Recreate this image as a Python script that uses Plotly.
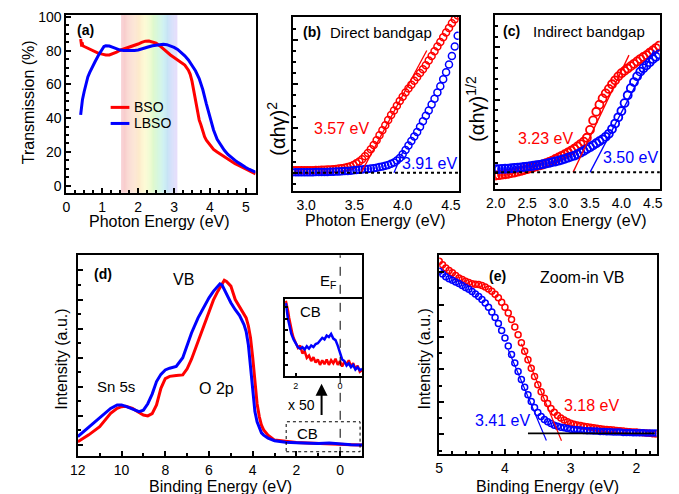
import numpy as np
import plotly.graph_objects as go

W, H = 679, 494
FONT = "Arial, Liberation Sans, sans-serif"
RED = "rgb(255,0,0)"
BLUE = "rgb(0,0,255)"

# screen-pixel -> paper fraction (measured placement of the plot area in the page)
X0, XS = 10.0, 676.6
Y0, YS = 14.0, 485.0


def px(x):
    return (x - X0) / XS


def py(y):
    return 1 - (y - Y0) / YS


# ---------------- (a) transmission ----------------
a_bso_x = [0.40, 0.41, 0.42, 0.43, 0.44, 0.46, 0.50, 0.60, 0.70, 0.80, 0.90, 1.00, 1.10, 1.20,
           1.30, 1.40, 1.50, 1.60, 1.70, 1.80, 1.90, 2.00, 2.10, 2.20, 2.30, 2.40, 2.50, 2.60,
           2.70, 2.80, 2.90, 3.00, 3.10, 3.20, 3.30, 3.40, 3.45, 3.50, 3.55, 3.60, 3.65, 3.70,
           3.75, 3.80, 3.85, 3.90, 3.95, 4.00, 4.10, 4.20, 4.30, 4.40, 4.50, 4.60, 4.70, 4.80,
           4.90, 5.00, 5.10, 5.20, 5.27]
a_bso_y = [87, 83, 86.5, 82.5, 85, 83, 82.5, 81.5, 80.5, 79.5, 78.5, 78, 77.5, 77.5,
           78.2, 79.2, 80.3, 81, 81.5, 82.2, 83, 84, 85, 85.7, 85.8, 85.3, 84.5, 83,
           81, 79, 77.5, 76, 74.5, 73, 71.5, 68.5, 66, 62, 56, 50, 44, 39,
           36, 32, 29, 27, 25.5, 24, 21.5, 20, 18.5, 17, 15.8, 14.4, 13, 12,
           11, 9.8, 8.8, 7.6, 7]
a_lbso_x = [0.40, 0.42, 0.45, 0.50, 0.55, 0.60, 0.65, 0.70, 0.80, 0.90, 1.00, 1.05, 1.10, 1.20,
            1.30, 1.40, 1.50, 1.60, 1.70, 1.80, 1.90, 2.00, 2.10, 2.20, 2.30, 2.40, 2.50, 2.60,
            2.70, 2.80, 2.90, 3.00, 3.10, 3.20, 3.30, 3.40, 3.50, 3.60, 3.70, 3.80, 3.90, 4.00,
            4.10, 4.20, 4.30, 4.40, 4.50, 4.60, 4.70, 4.80, 4.90, 5.00, 5.10, 5.20, 5.27]
a_lbso_y = [42, 46, 51, 56, 61, 64.5, 67, 69.5, 73.5, 77.5, 81, 82.5, 83, 82.8,
            82, 81, 80.4, 80.1, 80, 80, 80.2, 80.5, 81, 81.7, 82.4, 83, 83.4, 83.7,
            83.8, 83.6, 83, 82, 80.8, 79, 77, 74.5, 71.5, 68, 63.5, 57, 48.5, 40,
            33, 27.5, 24, 21, 18.5, 16.5, 15, 13.5, 12, 10.8, 9.6, 8.6, 8]
visible_band = [1.53, 3.09]  # eV

# ---------------- (b) direct bandgap ----------------
b_x = np.round(2.86 + 0.03 * np.arange(58), 3)
b_bso = [1.5, 1.5, 1.5, 1.5, 1.5, 1.6, 1.6, 1.6, 1.7, 1.7,
         1.8, 1.9, 2.0, 2.1, 2.2, 2.4, 2.6, 2.9, 3.2, 3.6,
         4.2, 5.0, 6.0, 7.2, 8.6, 10.5, 12.6, 15.0, 17.8, 20.8,
         24.0, 27.2, 30.5, 33.8, 37.0, 40.0, 43.0, 46.0, 48.8, 51.5,
         54.0, 56.5, 59.0, 61.5, 64.0, 66.5, 69.0, 72.0, 75.0, 78.0,
         81.0, 84.0, 87.0, 90.0, 93.0, 96.0, 98.5, 101.0]
b_lbso = [0.2, 0.2, 0.2, 0.2, 0.3, 0.3, 0.3, 0.3, 0.4, 0.4,
          0.4, 0.5, 0.5, 0.6, 0.6, 0.7, 0.8, 0.9, 1.0, 1.1,
          1.3, 1.5, 1.7, 1.9, 2.1, 2.3, 2.4, 2.6, 2.9, 3.2,
          3.6, 4.0, 4.5, 5.0, 5.7, 6.6, 7.8, 9.5, 11.8, 14.5,
          17.5, 20.3, 23.2, 26.2, 29.5, 33.0, 36.5, 40.0, 43.8, 47.5,
          51.5, 55.5, 60.0, 64.5, 69.5, 75.0, 81.0, 88.0]
b_fit_bso_x = [3.57, 4.25]
b_fit_bso_y = [0.0, 78.5]
b_fit_lbso_x = [3.91, 4.01]
b_fit_lbso_y = [0.0, 14.5]

# ---------------- (c) indirect bandgap ----------------
c_x = np.round(2.00 + 0.05 * np.arange(53), 3)
c_bso = [-2.0, -1.8, -1.5, -1.2, -0.9, -0.5, -0.1, 0.4, 0.9, 1.4,
         2.0, 2.6, 3.2, 3.8, 4.4, 5.0, 5.8, 6.6, 7.5, 8.5,
         9.5, 10.5, 11.5, 12.6, 13.8, 15.0, 16.5, 18.0, 19.5, 22.0,
         27.0, 33.0, 38.5, 43.0, 47.0, 50.2, 53.0, 56.0, 58.5, 61.0,
         63.0, 64.5, 66.0, 67.5, 69.0, 70.5, 72.0, 73.3, 74.5, 76.0,
         77.5, 79.0, 80.5]
c_lbso = [2.0, 2.1, 2.2, 2.3, 2.4, 2.6, 2.8, 3.0, 3.2, 3.4,
          3.6, 3.9, 4.2, 4.5, 4.8, 5.2, 5.6, 6.0, 6.5, 6.9,
          7.4, 8.0, 8.6, 9.3, 10.0, 10.6, 11.5, 12.5, 13.6, 14.8,
          16.0, 17.2, 18.5, 19.8, 21.0, 22.6, 24.5, 27.5, 31.0, 35.0,
          39.0, 44.0, 49.0, 53.5, 57.4, 61.0, 64.0, 66.2, 68.0, 70.0,
          72.0, 73.5, 75.0]
c_fit_bso_x = [3.23, 4.12]
c_fit_bso_y = [0.0, 74.5]
c_fit_lbso_x = [3.50, 4.52]
c_fit_lbso_y = [0.0, 77.7]

# ---------------- (d) valence band ----------------
d_bso_x = [12.0, 11.5, 11.0, 10.5, 10.2, 10.0, 9.8, 9.5, 9.2, 9.0, 8.8, 8.6, 8.4, 8.2, 8.0, 7.8,
           7.5, 7.2, 7.0, 6.8, 6.5, 6.2, 6.0, 5.8, 5.6, 5.4, 5.3, 5.2, 5.0, 4.8, 4.6, 4.4, 4.3,
           4.2, 4.1, 4.0, 3.9, 3.8, 3.7, 3.6, 3.5, 3.3, 3.0, 2.5, 2.0, 1.5, 1.0, 0.5, 0.0, -0.5, -1.0]
d_bso_y = [0.11, 0.35, 0.63, 1.09, 1.26, 1.32, 1.33, 1.26, 1.12, 1.03, 1.0, 1.08, 1.38, 1.95, 2.28, 2.36,
           2.39, 2.41, 2.62, 2.95, 3.56, 4.18, 4.6, 4.98, 5.28, 5.55, 5.66, 5.62, 5.46, 5.0, 4.75, 4.52, 4.37,
           4.1, 3.68, 3.0, 2.07, 1.42, 0.98, 0.68, 0.52, 0.34, 0.17, 0.12, 0.09, 0.07, 0.05, 0.04, 0.02, 0.01, 0.0]
d_lbso_x = [12.0, 11.5, 11.0, 10.5, 10.2, 10.0, 9.8, 9.5, 9.2, 9.0, 8.8, 8.6, 8.4, 8.2, 8.0, 7.8,
            7.5, 7.2, 7.0, 6.8, 6.5, 6.2, 6.0, 5.8, 5.6, 5.5, 5.4, 5.2, 5.0, 4.8, 4.6, 4.4, 4.3,
            4.2, 4.1, 4.0, 3.9, 3.8, 3.7, 3.6, 3.5, 3.3, 3.0, 2.5, 2.0, 1.5, 1.0, 0.5, 0.0, -0.5, -1.0]
d_lbso_y = [0.29, 0.62, 0.92, 1.26, 1.38, 1.38, 1.33, 1.24, 1.15, 1.20, 1.42, 1.75, 2.18, 2.43, 2.58, 2.64,
            2.70, 3.0, 3.45, 3.85, 4.37, 4.80, 5.06, 5.28, 5.46, 5.54, 5.50, 5.2, 4.89, 4.65, 4.45, 4.14, 3.9,
            3.45, 2.7, 1.95, 1.15, 0.80, 0.57, 0.42, 0.34, 0.24, 0.15, 0.10, 0.08, 0.06, 0.05, 0.07, 0.03, 0.01, 0.0]

# inset (x50, CB region)
i_bso_x = [2.45, 2.40, 2.35, 2.30, 2.25, 2.20, 2.15, 2.10, 2.05, 2.00, 1.90, 1.80, 1.70, 1.60, 1.50,
           1.40, 1.30, 1.20, 1.10, 1.00, 0.90, 0.80, 0.70, 0.60, 0.50, 0.40, 0.30, 0.20, 0.10, 0.00,
           -0.10, -0.20, -0.30, -0.40, -0.50, -0.60, -0.70, -0.80, -0.90, -1.00]
i_bso_y = [0.98, 0.93, 0.85, 0.76, 0.68, 0.62, 0.55, 0.50, 0.47, 0.43, 0.37, 0.40, 0.30, 0.33, 0.24,
           0.27, 0.20, 0.25, 0.18, 0.22, 0.15, 0.21, 0.16, 0.22, 0.15, 0.21, 0.17, 0.23, 0.15, 0.20,
           0.13, 0.19, 0.16, 0.21, 0.13, 0.17, 0.10, 0.14, 0.06, 0.08]
i_lbso_x = [2.45, 2.40, 2.35, 2.30, 2.25, 2.20, 2.10, 2.00, 1.90, 1.80, 1.70, 1.60, 1.50, 1.40, 1.30,
            1.20, 1.10, 1.00, 0.90, 0.80, 0.70, 0.60, 0.50, 0.40, 0.30, 0.20, 0.10, 0.00, -0.10, -0.20,
            -0.30, -0.40, -0.50, -0.60, -0.70, -0.80, -0.90, -1.00]
i_lbso_y = [0.95, 0.82, 0.74, 0.68, 0.60, 0.55, 0.48, 0.42, 0.38, 0.36, 0.38, 0.35, 0.39, 0.36, 0.40,
            0.38, 0.42, 0.43, 0.47, 0.50, 0.48, 0.53, 0.51, 0.55, 0.49, 0.47, 0.40, 0.30, 0.22, 0.20,
            0.14, 0.17, 0.12, 0.15, 0.09, 0.12, 0.08, 0.10]

# ---------------- (e) zoom-in VB ----------------
e_x = np.round(5.00 - 0.05 * np.arange(67), 3)
e_bso = [5.34, 5.23, 5.13, 5.05, 4.98, 4.90, 4.82, 4.77, 4.72, 4.68,
         4.64, 4.63, 4.62, 4.59, 4.54, 4.48, 4.41, 4.32, 4.21, 4.07,
         3.92, 3.74, 3.54, 3.31, 3.07, 2.82, 2.56, 2.30, 2.04, 1.78,
         1.53, 1.31, 1.11, 0.95, 0.80, 0.68, 0.58, 0.50, 0.44, 0.39,
         0.34, 0.31, 0.29, 0.27, 0.25, 0.23, 0.22, 0.20, 0.19, 0.17,
         0.16, 0.15, 0.14, 0.13, 0.12, 0.11, 0.10, 0.09, 0.08, 0.07,
         0.07, 0.06, 0.05, 0.04, 0.03, 0.02, 0.01]
e_lbso = [5.03, 4.94, 4.86, 4.80, 4.75, 4.70, 4.65, 4.59, 4.53, 4.47,
          4.40, 4.33, 4.25, 4.16, 4.05, 3.92, 3.77, 3.60, 3.42, 3.20,
          2.97, 2.72, 2.46, 2.20, 1.94, 1.69, 1.45, 1.22, 1.01, 0.83,
          0.67, 0.55, 0.46, 0.39, 0.33, 0.28, 0.25, 0.22, 0.20, 0.18,
          0.16, 0.15, 0.14, 0.13, 0.12, 0.11, 0.11, 0.10, 0.10, 0.09,
          0.09, 0.08, 0.08, 0.07, 0.07, 0.07, 0.06, 0.06, 0.06, 0.05,
          0.05, 0.05, 0.05, 0.04, 0.04, 0.04, 0.04]
e_fit_bso_x = [3.14, 3.75]
e_fit_bso_y = [-0.2, 2.79]
e_fit_lbso_x = [3.37, 3.95]
e_fit_lbso_y = [-0.19, 2.61]
e_base_x = [3.65, 1.72]
e_base_y = [0.03, 0.03]

fig = go.Figure()


def line_tr(x, y, color, width, xa, ya, dash=None):
    fig.add_trace(go.Scatter(x=x, y=y, mode="lines", xaxis=xa, yaxis=ya, showlegend=False,
                             line=dict(color=color, width=width, dash=dash), hoverinfo="skip"))


def mark_tr(x, y, color, size, lw, xa, ya):
    fig.add_trace(go.Scatter(x=x, y=y, mode="markers", xaxis=xa, yaxis=ya, showlegend=False,
                             marker=dict(symbol="circle-open", size=size, color=color,
                                         line=dict(color=color, width=lw)), hoverinfo="skip"))


# (a)
line_tr(a_bso_x, a_bso_y, RED, 3, "x", "y")
line_tr(a_lbso_x, a_lbso_y, BLUE, 3, "x", "y")
# (b)
mark_tr(b_x, b_bso, RED, 7, 1.5, "x2", "y2")
mark_tr(b_x, b_lbso, BLUE, 7, 1.5, "x2", "y2")
line_tr(b_fit_bso_x, b_fit_bso_y, RED, 1.3, "x2", "y2")
line_tr(b_fit_lbso_x, b_fit_lbso_y, BLUE, 1.3, "x2", "y2")
# (c)
mark_tr(c_x, c_bso, RED, 8, 1.8, "x3", "y3")
mark_tr(c_x, c_lbso, BLUE, 8, 1.8, "x3", "y3")
line_tr(c_fit_bso_x, c_fit_bso_y, RED, 1.3, "x3", "y3")
line_tr(c_fit_lbso_x, c_fit_lbso_y, BLUE, 1.3, "x3", "y3")
# (d)
line_tr(d_bso_x, d_bso_y, RED, 3, "x4", "y4")
line_tr(d_lbso_x, d_lbso_y, BLUE, 3, "x4", "y4")
# inset
line_tr(i_bso_x, i_bso_y, RED, 2.5, "x6", "y6")
line_tr(i_lbso_x, i_lbso_y, BLUE, 2.5, "x6", "y6")
# (e)
mark_tr(e_x, e_bso, RED, 6, 1.5, "x5", "y5")
mark_tr(e_x, e_lbso, BLUE, 6, 1.5, "x5", "y5")
line_tr(e_fit_bso_x, e_fit_bso_y, RED, 1.2, "x5", "y5")
line_tr(e_fit_lbso_x, e_fit_lbso_y, BLUE, 1.2, "x5", "y5")
line_tr(e_base_x, e_base_y, "black", 1.8, "x5", "y5")


def axis(domain, rng, anchor, dtick=None, tick0=None, minor=None, labels=True, ticks="inside",
         ticklen=5, fmt=None, size=14, tickvals=None, lw=2):
    d = dict(domain=domain, range=rng, anchor=anchor, showline=True, linecolor="black",
             linewidth=lw, mirror=True, ticks=ticks, ticklen=ticklen, tickwidth=1.5,
             tickcolor="black", showgrid=False, zeroline=False, showticklabels=labels,
             ticklabeloverflow="allow",
             tickfont=dict(size=size, color="black", family=FONT), fixedrange=True)
    if dtick is not None:
        d["dtick"] = dtick
    if tick0 is not None:
        d["tick0"] = tick0
    if tickvals is not None:
        d["tickvals"] = tickvals
        d["tickmode"] = "array"
    if fmt:
        d["tickformat"] = fmt
    if minor is not None and ticks:
        d["minor"] = dict(dtick=minor, tick0=tick0 if tick0 is not None else 0, ticks="inside",
                          ticklen=3, tickwidth=1.5, tickcolor="black", showgrid=False)
    return d


layout = dict(
    width=W, height=H, margin=dict(l=0, r=0, t=0, b=0), autosize=False,
    paper_bgcolor="white", plot_bgcolor="white", showlegend=False,
    font=dict(family=FONT, color="black"),
    xaxis=axis([px(60), px(252)], [0, 5.27], "y", dtick=1, tick0=0, minor=0.25),
    yaxis=axis([py(192), py(15)], [-4.2, 101.2], "x", dtick=20, tick0=0, minor=5),
    xaxis2=axis([px(290), px(458)], [2.864, 4.58], "y2", dtick=0.5, tick0=3.0, ticks="", fmt=".1f"),
    yaxis2=axis([py(190), py(17)], [-11.6, 100], "x2", dtick=28.4, tick0=0, minor=7.1, labels=False),
    xaxis3=axis([px(495), px(662)], [1.99, 4.61], "y3", dtick=0.5, tick0=2.0, ticks="", fmt=".1f"),
    yaxis3=axis([py(188), py(15)], [-10.4, 100], "x3", dtick=33.4, tick0=12.8, minor=6.68, labels=False),
    xaxis4=axis([px(71.7), px(360)], [12, -1], "y4", dtick=2, tick0=0, minor=1),
    yaxis4=axis([py(454), py(254.3)], [-0.37, 6.52], "x4", dtick=1, tick0=0, minor=0.5, labels=False),
    xaxis5=axis([px(438.3), px(659)], [5, 1.69], "y5", dtick=1, tick0=0, minor=0.2),
    yaxis5=axis([py(452.3), py(254.3)], [-0.61, 5.52], "x5", dtick=1, tick0=0, minor=0.5, labels=False),
    xaxis6=axis([px(282), px(360)], [2.48, -1.0], "y6", tickvals=[2, 0], ticklen=3, size=9),
    yaxis6=axis([py(375), py(298)], [0, 1.0], "x6", dtick=0.15, tick0=0, ticklen=3, labels=False),
)
fig.update_layout(**layout)

shapes = []
# visible spectrum band in (a)
stops = [(0.0, (247, 200, 206)), (0.15, (250, 214, 204)), (0.30, (253, 232, 202)),
         (0.42, (253, 249, 202)), (0.55, (228, 250, 202)), (0.66, (203, 245, 214)),
         (0.76, (196, 238, 240)), (0.88, (202, 220, 250)), (1.0, (226, 212, 250))]
nstrip = 60
for i in range(nstrip):
    t = (i + 0.5) / nstrip
    for j in range(len(stops) - 1):
        if stops[j][0] <= t <= stops[j + 1][0]:
            f = (t - stops[j][0]) / (stops[j + 1][0] - stops[j][0])
            c = [round(stops[j][1][k] + f * (stops[j + 1][1][k] - stops[j][1][k])) for k in range(3)]
            break
    x0 = visible_band[0] + (visible_band[1] - visible_band[0]) * i / nstrip
    x1 = visible_band[0] + (visible_band[1] - visible_band[0]) * (i + 1.05) / nstrip
    shapes.append(dict(type="rect", xref="x", yref="y domain", x0=x0, x1=x1, y0=0, y1=1,
                       fillcolor="rgb(%d,%d,%d)" % tuple(c), line=dict(width=0), layer="below"))
# legend samples (a)
shapes.append(dict(type="line", xref="paper", yref="paper", x0=px(105), x1=px(124), y0=py(107), y1=py(107),
                   line=dict(color=RED, width=3)))
shapes.append(dict(type="line", xref="paper", yref="paper", x0=px(105), x1=px(124), y0=py(123), y1=py(123),
                   line=dict(color=BLUE, width=3)))
# dotted baselines (b), (c)
shapes.append(dict(type="line", xref="x2 domain", yref="y2", x0=0, x1=1, y0=0, y1=0,
                   line=dict(color="black", width=2, dash="dot"), layer="above"))
shapes.append(dict(type="line", xref="x3 domain", yref="y3", x0=0, x1=1, y0=0, y1=0,
                   line=dict(color="black", width=2, dash="dot"), layer="above"))
# E_F dashed line and dotted CB box in (d)
shapes.append(dict(type="line", xref="x4", yref="y4 domain", x0=0, x1=0, y0=0, y1=1,
                   line=dict(color="black", width=1, dash="dash"), layer="above"))
shapes.append(dict(type="rect", xref="x4", yref="y4", x0=2.47, x1=-0.91, y0=-0.23, y1=0.80,
                   line=dict(color="black", width=1, dash="dot"), layer="above"))
fig.update_layout(shapes=shapes)

ann = []


def txt(x, y, s, color="black", size=15, bold=False, angle=0, xanchor="center"):
    if bold:
        s = "<b>" + s + "</b>"
    ann.append(dict(x=px(x), y=py(y), xref="paper", yref="paper", text=s, showarrow=False,
                    font=dict(size=size, color=color, family=FONT), textangle=angle,
                    xanchor=xanchor, yanchor="middle"))


# axis titles
txt(155, 221, "Photon Energy (eV)", size=16)
txt(374, 220, "Photon Energy (eV)", size=16)
txt(578, 220, "Photon Energy (eV)", size=16)
txt(216, 485, "Binding Energy (eV)", size=16)
txt(548, 485, "Binding Energy (eV)", size=16)
txt(22, 102, "Transmission (%)", size=16, angle=-90)
txt(273, 128, "(αhγ)<sup>2</sup>", size=20, angle=-90)
txt(475, 108, "(αhγ)<sup>1/2</sup>", size=20, angle=-90)
txt(55, 358, "Intensity (a.u.)", size=16, angle=-90)
txt(423, 358, "Intensity (a.u.)", size=16, angle=-90)
# panel labels
txt(79, 30, "(a)", size=14, bold=True)
txt(309, 32, "(b)", size=14, bold=True)
txt(379, 32, "Direct bandgap", size=15)
txt(511.5, 31, "(c)", size=14, bold=True)
txt(590.5, 31, "Indirect bandgap", size=15)
txt(97, 273, "(d)", size=14, bold=True)
txt(497.5, 275, "(e)", size=14, bold=True)
txt(583.5, 276, "Zoom-in VB", size=16)
# legend text
txt(127, 107, "BSO", size=14, xanchor="left")
txt(127, 123, "LBSO", size=14, xanchor="left")
# gap values
txt(339.5, 128, "3.57 eV", RED, 16)
txt(428.5, 163, "3.91 eV", BLUE, 16)
txt(546.5, 138, "3.23 eV", RED, 16)
txt(632.5, 157, "3.50 eV", BLUE, 16)
txt(502.5, 419, "3.41 eV", BLUE, 16)
txt(592.5, 404, "3.18 eV", RED, 16)
# (d) labels
txt(179, 278, "VB", size=16)
txt(325, 280, "E<sub>F</sub>", size=15)
txt(110, 385, "Sn 5s", size=15)
txt(212.5, 387, "O 2p", size=16)
txt(298.5, 403, "x 50", size=14)
txt(307.5, 310, "CB", size=15)
txt(305, 432, "CB", size=15)
# arrow
ann.append(dict(x=0.85, y=2.11, ax=0.85, ay=0.98, xref="x4", yref="y4", axref="x4", ayref="y4",
                text="", showarrow=True, arrowhead=2, arrowsize=1.2, arrowwidth=2, arrowcolor="black"))
fig.update_layout(annotations=ann)

fig.write_html("out.html")
